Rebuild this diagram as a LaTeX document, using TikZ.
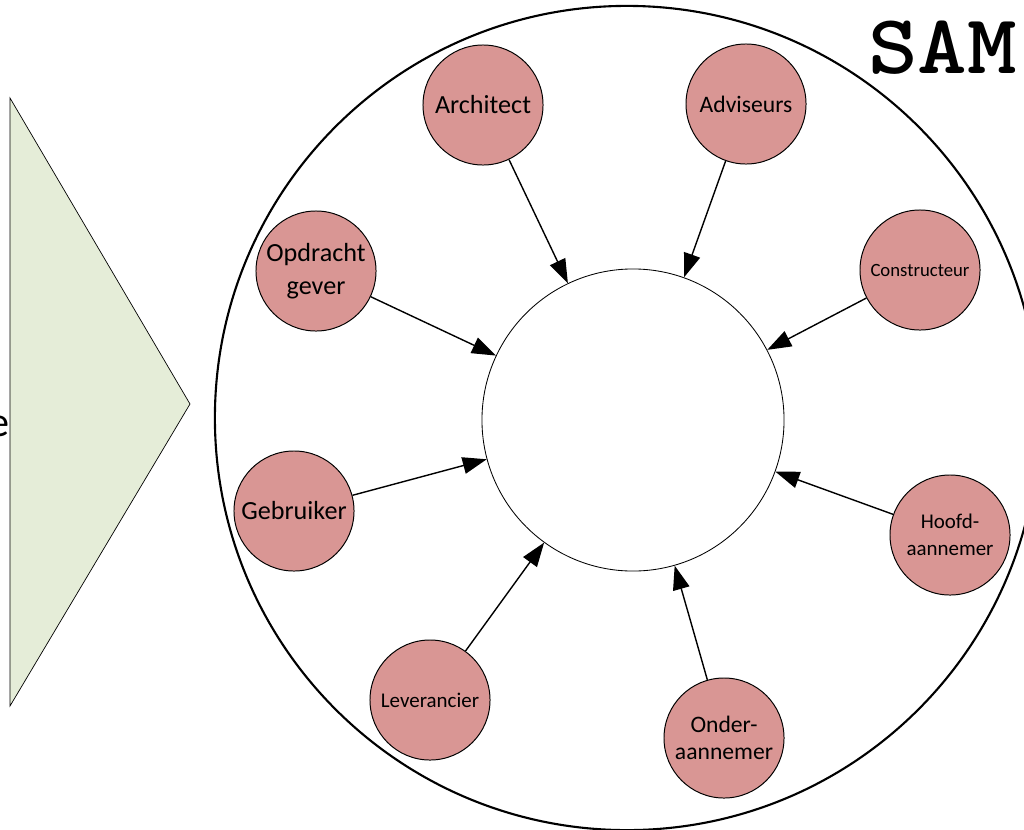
\documentclass[tikz,border=0pt]{standalone}
\usepackage{fontspec}
\setmainfont{Carlito}
\usetikzlibrary{arrows.meta}
\definecolor{partyred}{RGB}{217,150,148}
\definecolor{wedgegreen}{RGB}{229,237,216}

\begin{document}
\begin{tikzpicture}[x=0.025cm, y=-0.025cm,
                    >={Triangle[length=6mm,width=4.2mm]},
                    party/.style={circle, draw, line width=0.7pt, fill=partyred,
                                  minimum size=3cm, inner sep=0pt, align=center}]
\useasboundingbox (0,0) rectangle (1024,829);
% wedge, ring and core
\draw[fill=wedgegreen, line width=0.5pt] (10,98) -- (190,404) -- (10,706) -- cycle;
\node[font=\fontsize{30}{36}\selectfont, anchor=base east, inner sep=0pt] (cut) at (10,436) {e};
\node[circle, draw, line width=1.5pt, minimum size=20.6cm] (ring) at (627,418) {};
\node[circle, draw, line width=0.6pt, minimum size=7.55cm] (core) at (633,420) {};
\node[font=\ttfamily\bfseries\fontsize{60}{60}\selectfont, anchor=base west, inner sep=0pt] (sam) at (868,73) {\scalebox{1.12}[1]{SAM}};

% parties round the core
\node[party, font=\fontsize{18.6}{23.5}\selectfont] (arch) at (483,105) {Architect};
\node[party, font=\fontsize{16.8}{20}\selectfont]   (adv)  at (746,104) {Adviseurs};
\node[party, font=\fontsize{18.6}{23.5}\selectfont] (opdr) at (316,271) {Opdracht\\gever};
\node[party, font=\fontsize{13.3}{16}\selectfont]   (cons) at (920,270) {Constructeur};
\node[party, font=\fontsize{18.6}{23.5}\selectfont] (gebr) at (294,511) {Gebruiker};
\node[party, font=\fontsize{14.9}{19.2}\selectfont] (hoofd) at (950,535) {Hoofd-\\aannemer};
\node[party, font=\fontsize{14.9}{19.2}\selectfont] (lev)  at (430,700) {Leverancier};
\node[party, font=\fontsize{16.8}{19.5}\selectfont] (onder) at (724,738) {Onder-\\aannemer};

\path[->, line width=1pt] (arch)  edge (core)
                          (adv)   edge (core)
                          (opdr)  edge (core)
                          (cons)  edge (core)
                          (gebr)  edge (core)
                          (hoofd) edge (core)
                          (lev)   edge (core)
                          (onder) edge (core);

\end{tikzpicture}
\end{document}
